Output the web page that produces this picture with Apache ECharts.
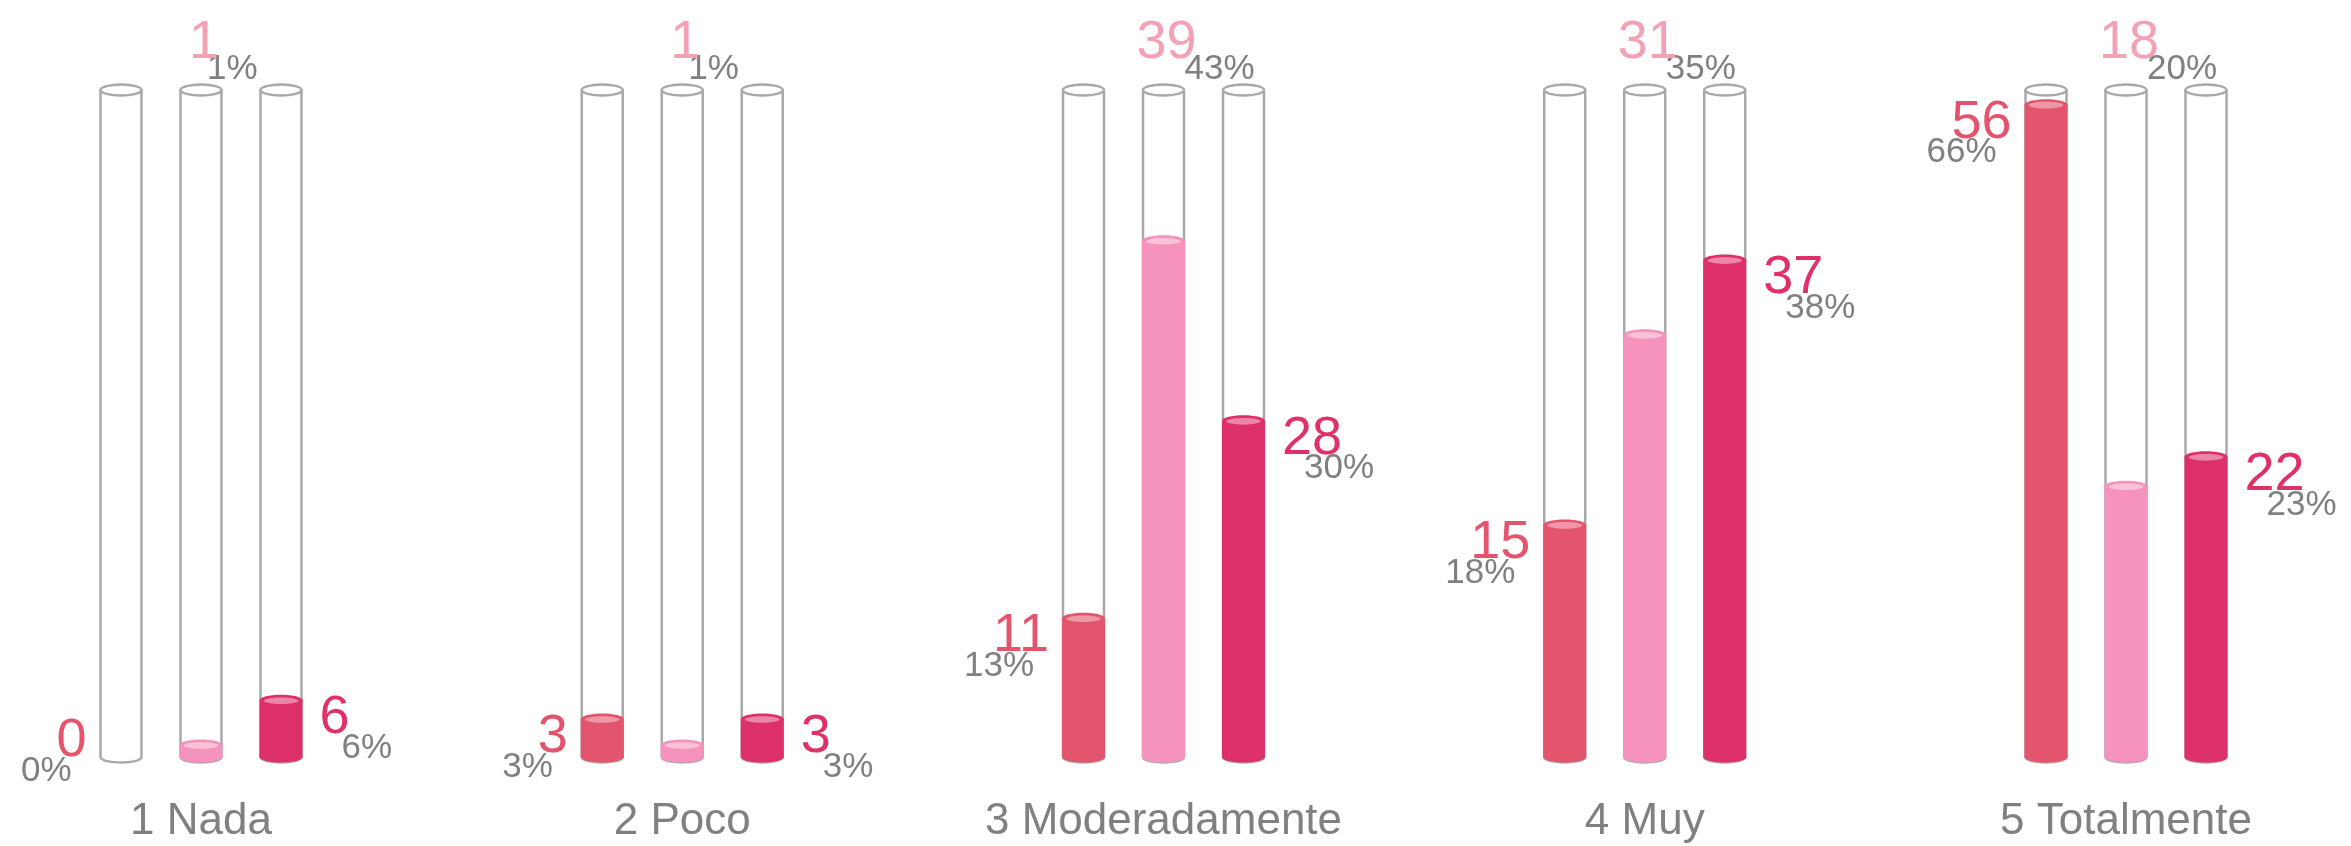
<!DOCTYPE html>
<html>
<head>
<meta charset="utf-8">
<title>Tubos</title>
<script src="https://cdn.jsdelivr.net/npm/echarts@6/dist/echarts.min.js"></script>
<style>
  html, body { margin: 0; padding: 0; background: #fff; }
  #chart { width: 2351px; height: 846px; }
</style>
</head>
<body>
<div id="chart"></div>
<script>
// categorias del eje
const categories = ['1 Nada', '2 Poco', '3 Moderadamente', '4 Muy', '5 Totalmente']

// respuestas (conteo) por serie
const counts1 = [0, 3, 11, 15, 56]
const counts2 = [1, 1, 39, 31, 18]
const counts3 = [6, 3, 28, 37, 22]

// porcentajes mostrados
const pct1 = [0, 3, 13, 18, 66]
const pct2 = [1, 1, 43, 35, 20]
const pct3 = [6, 3, 30, 38, 23]

// nivel de llenado de cada tubo (% de la altura del tubo)
const fill1 = [0, 5.7, 20.8, 34.8, 97.8]
const fill2 = [1.8, 1.8, 77.4, 63.3, 40.6]
const fill3 = [8.5, 5.7, 50.4, 74.5, 45]

const colors = ['#e3556d', '#f693bd', '#dd306b']
const topColors = ['#ef97a6', '#fac2d8', '#eb86a7']
const labelColors = ['#e4546c', '#f4a1b6', '#df3068']
const pctColor = '#808080'
const tubeColor = '#a9a9a9'
const FONT = '"Liberation Sans", Arial, sans-serif'

const offsets = [-80, 0, 80]
const rx = 20.5
const ry = 5.5

function renderTube(params, api) {
  const s = params.seriesIndex
  const cat = api.value(0)
  const level = api.value(1)
  const count = api.value(2)
  const pct = api.value(3)
  const base = api.coord([cat, 0])
  const x = base[0] + offsets[s]
  const bottomY = base[1]
  const topY = api.coord([cat, 100])[1]
  const fillY = api.coord([cat, level])[1]
  const children = []

  // tubo vacio
  children.push({ type: 'rect', shape: { x: x - rx, y: topY, width: rx * 2, height: bottomY - topY }, style: { fill: '#fff' } })
  children.push({ type: 'line', shape: { x1: x - rx, y1: topY, x2: x - rx, y2: bottomY }, style: { stroke: tubeColor, lineWidth: 2.5 } })
  children.push({ type: 'line', shape: { x1: x + rx, y1: topY, x2: x + rx, y2: bottomY }, style: { stroke: tubeColor, lineWidth: 2.5 } })
  children.push({
    type: 'bezierCurve',
    shape: { x1: x - rx, y1: bottomY, cpx1: x - rx, cpy1: bottomY + ry * 1.33, cpx2: x + rx, cpy2: bottomY + ry * 1.33, x2: x + rx, y2: bottomY },
    style: { stroke: tubeColor, lineWidth: 2.5, fill: null }
  })
  children.push({ type: 'ellipse', shape: { cx: x, cy: topY, rx: rx, ry: ry }, style: { stroke: tubeColor, lineWidth: 2.5, fill: '#fff' } })

  // liquido
  if (level > 0) {
    const fr = rx + 1
    children.push({ type: 'ellipse', shape: { cx: x, cy: bottomY, rx: fr, ry: ry }, style: { fill: colors[s] } })
    children.push({ type: 'rect', shape: { x: x - fr, y: fillY, width: fr * 2, height: bottomY - fillY }, style: { fill: colors[s] } })
    children.push({ type: 'ellipse', shape: { cx: x, cy: fillY, rx: fr, ry: ry }, style: { fill: colors[s] } })
    children.push({ type: 'ellipse', shape: { cx: x, cy: fillY + 0.5, rx: fr * 0.8, ry: ry * 0.6 }, style: { fill: topColors[s] } })
  }

  // etiquetas
  let cx, cy, px, py, align
  if (s === 0) {
    align = 'right'
    cy = Math.min(fillY + 18, bottomY - 16)
    cx = x - rx - 14
    px = cx - 15
    py = cy + 30
  } else if (s === 2) {
    align = 'left'
    cy = Math.min(fillY + 18, bottomY - 16)
    cx = x + rx + 18
    px = cx + 22
    py = cy + 30
  } else {
    align = 'center'
    cx = x + 3
    cy = topY - 47
    px = cx + String(count).length * 15 - 12
    py = topY - 21
  }
  children.push({
    type: 'text',
    style: { text: String(pct) + '%', x: px, y: py, fill: pctColor, font: '35px ' + FONT, align: s === 0 ? 'right' : 'left', verticalAlign: 'middle' }
  })
  children.push({
    type: 'text',
    style: { text: String(count), x: cx, y: cy, fill: labelColors[s], font: '54px ' + FONT, align: align, verticalAlign: 'middle' }
  })

  return { type: 'group', children: children }
}

function seriesData(fill, counts, pcts) {
  return categories.map((c, i) => [i, fill[i], counts[i], pcts[i]])
}

const chart = echarts.init(document.getElementById('chart'))
chart.setOption({
  animation: false,
  backgroundColor: '#fff',
  grid: { left: 201, right: 225, top: 90, bottom: 89 },
  xAxis: {
    type: 'category',
    data: categories,
    boundaryGap: false,
    axisLine: { show: false },
    axisTick: { show: false },
    axisLabel: { color: '#808080', fontSize: 44, fontFamily: FONT, margin: 43 },
  },
  yAxis: { type: 'value', min: 0, max: 100, show: false, splitLine: { show: false } },
  series: [
    { type: 'custom', name: 'serie 1', renderItem: renderTube, data: seriesData(fill1, counts1, pct1) },
    { type: 'custom', name: 'serie 2', renderItem: renderTube, data: seriesData(fill2, counts2, pct2) },
    { type: 'custom', name: 'serie 3', renderItem: renderTube, data: seriesData(fill3, counts3, pct3) },
  ],
})
</script>
</body>
</html>
